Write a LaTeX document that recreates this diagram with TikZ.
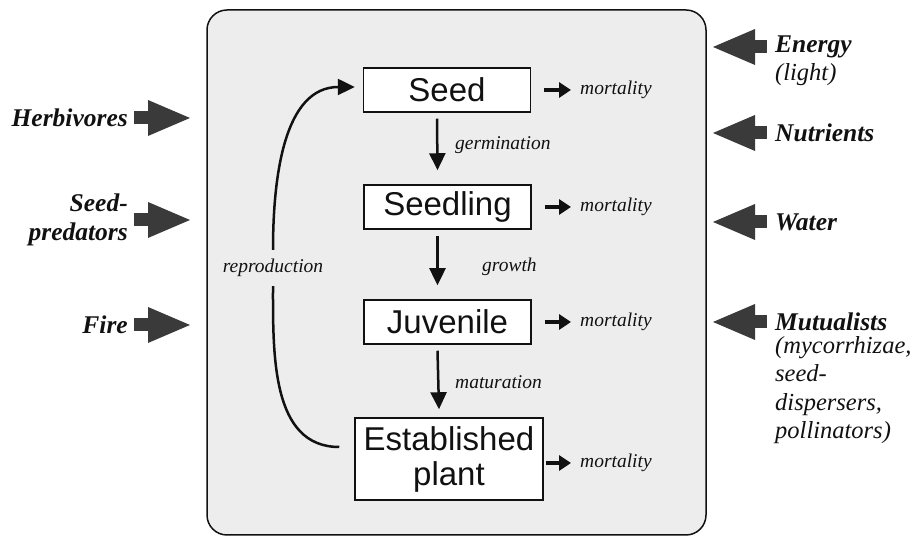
\documentclass[tikz,border=0pt]{standalone}
\usepackage{fontspec}
\setmainfont{Liberation Serif}
\setsansfont{Liberation Sans}
\usepackage{xcolor}
\usepackage{tikz}
\usetikzlibrary{arrows.meta,positioning}
\definecolor{Ink}{HTML}{111111}
\definecolor{PanelGrey}{HTML}{EDEDED}
\definecolor{ForceGrey}{HTML}{3A3A3A}

\begin{document}
\begin{tikzpicture}[x=1pt,y=1pt]
  \path[use as bounding box] (0,0) rectangle (921,540);

  \tikzset{
    lifePanel/.style={
      draw=Ink,
      fill=PanelGrey,
      line width=1.5pt,
      rounded corners=20pt
    },
    lifeStage/.style={
      draw=Ink,
      fill=white,
      line width=1.5pt,
      minimum width=167pt,
      minimum height=44pt,
      inner sep=0pt,
      align=center,
      font=\sffamily\fontsize{33}{35}\selectfont,
      text=Ink
    },
    rateLabel/.style={
      inner sep=0pt,
      anchor=west,
      font=\itshape\fontsize{19.5}{22}\selectfont,
      text=Ink
    },
    stageArrow/.style={
      -{Triangle[length=17pt,width=16pt]},
      draw=Ink,
      line width=2.5pt
    },
    lossArrow/.style={
      -{Triangle[length=12pt,width=15pt]},
      draw=Ink,
      line width=4pt
    },
    forceArrow/.style={
      -{Triangle[length=42pt,width=36pt,line width=0pt]},
      draw=ForceGrey,
      line width=13pt
    },
    forceLabel/.style={
      inner sep=0pt,
      font=\bfseries\itshape\fontsize{25.5}{29}\selectfont,
      text=Ink
    },
    forceNote/.style={
      inner sep=0pt,
      align=left,
      font=\itshape\fontsize{24.5}{28.5}\selectfont,
      text=Ink
    }
  }

  \draw[lifePanel] (207,5) rectangle (706,530);

  % stages of the plant life cycle
  \node[lifeStage] (seed) at (447,450) {Seed};
  \node[lifeStage] (seedling) at (447.5,333) {Seedling};
  \node[lifeStage] (juvenile) at (447.5,218) {Juvenile};
  \node[lifeStage,minimum width=188pt,minimum height=82pt] (plant) at (449,81)
    {Established\\plant};

  \draw[stageArrow] ([xshift=-10pt,yshift=-6pt]seed.south)
    -- ([xshift=-10pt,yshift=14pt]seedling.north);
  \draw[stageArrow] ([xshift=-10pt,yshift=-6pt]seedling.south)
    -- ([xshift=-10pt,yshift=14pt]juvenile.north);
  \draw[stageArrow] ([xshift=-10pt,yshift=-6pt]juvenile.south)
    -- ([xshift=-10pt,yshift=8pt]plant.north);
  \node[rateLabel] (germ) at (455,395) {germination};
  \node[rateLabel] (grow) at (482,273) {growth};
  \node[rateLabel] (mature) at (455,158) {maturation};

  % losses
  \node[rateLabel] (seedLoss) at (580,450) {mortality};
  \node[rateLabel] (seedlingLoss) at (580,333) {mortality};
  \node[rateLabel] (juvenileLoss) at (580,218) {mortality};
  \node[rateLabel] (plantLoss) at (580,77) {mortality};
  \draw[lossArrow] ([xshift=13pt]seed.east) -- ([xshift=-9pt]seedLoss.west);
  \draw[lossArrow] ([xshift=13pt]seedling.east) -- ([xshift=-9pt]seedlingLoss.west);
  \draw[lossArrow] ([xshift=13pt]juvenile.east) -- ([xshift=-9pt]juvenileLoss.west);
  \draw[lossArrow] ([xshift=2pt,yshift=-4pt]plant.east) -- ([xshift=-9pt]plantLoss.west);

  % reproduction loop back to the seed
  \node[rateLabel,anchor=center,inner ysep=9pt] (repro) at (273,272) {reproduction};
  \draw[stageArrow,-] ([xshift=-15pt,yshift=12pt]plant.west)
    to[out=180,in=-90] (repro);
  \draw[stageArrow] (repro) to[out=90,in=180] ([xshift=-8pt,yshift=3pt]seed.west);

  % outside factors, left
  \coordinate (herbTail) at (134,422);
  \coordinate (predTail) at (134,320);
  \coordinate (fireTail) at (134,215);
  \coordinate (herbTip) at (190,422);
  \coordinate (predTip) at (190,320);
  \coordinate (fireTip) at (190,215);
  \draw[forceArrow] (herbTail) -- (herbTip);
  \draw[forceArrow] (predTail) -- (predTip);
  \draw[forceArrow] (fireTail) -- (fireTip);
  \node[forceLabel,left=6pt of herbTail] (herb) {Herbivores};
  \node[forceLabel,align=right,left=6pt of predTail] (pred) {Seed-\\predators};
  \node[forceLabel,left=6pt of fireTail] (fire) {Fire};

  % outside factors, right
  \coordinate (energyTail) at (767,493);
  \coordinate (nutrTail) at (767,407);
  \coordinate (waterTail) at (767,318);
  \coordinate (mutTail) at (767,218);
  \coordinate (energyTip) at (713,493);
  \coordinate (nutrTip) at (713,407);
  \coordinate (waterTip) at (713,318);
  \coordinate (mutTip) at (713,218);
  \draw[forceArrow] (energyTail) -- (energyTip);
  \draw[forceArrow] (nutrTail) -- (nutrTip);
  \draw[forceArrow] (waterTail) -- (waterTip);
  \draw[forceArrow] (mutTail) -- (mutTip);
  \node[forceLabel,right=8pt of energyTail] (energy) {Energy};
  \node[forceNote,anchor=north west] (light) at ([yshift=-5pt]energy.south west) {(light)};
  \node[forceLabel,right=8pt of nutrTail] (nutr) {Nutrients};
  \node[forceLabel,right=8pt of waterTail] (water) {Water};
  \node[forceLabel,right=8pt of mutTail] (mut) {Mutualists};
  \node[forceNote,anchor=north west] (mutKinds) at ([yshift=-5pt]mut.south west)
    {(mycorrhizae,\\seed-\\dispersers,\\pollinators)};
\end{tikzpicture}
\end{document}
